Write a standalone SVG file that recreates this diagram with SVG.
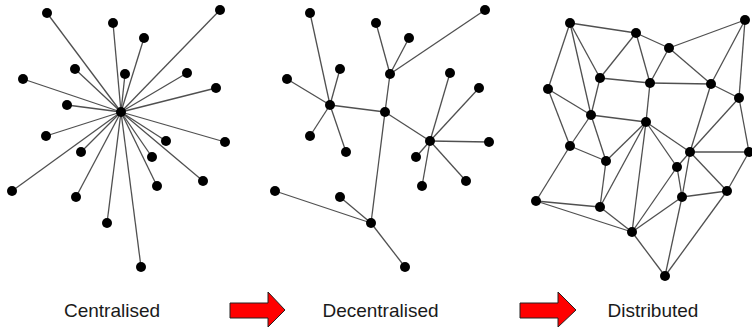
<svg xmlns="http://www.w3.org/2000/svg" width="752" height="327" viewBox="0 0 752 327">
<style>
.e line{stroke:#505050;stroke-width:1.3;fill:none}
.n circle{fill:#000}
.lbl{font-family:"Liberation Sans",Arial,sans-serif;font-size:19px;fill:#1a1a1a;text-anchor:middle}
.arr{fill:#ff0000;stroke:#222;stroke-width:1}
</style>
<rect width="752" height="327" fill="#fff"/>
<g id="connectors" class="e">
<!-- centralised -->
<line x1="121" y1="112" x2="47" y2="13"/><line x1="121" y1="112" x2="113" y2="23"/><line x1="121" y1="112" x2="144" y2="38"/><line x1="121" y1="112" x2="220" y2="10"/><line x1="121" y1="112" x2="75" y2="69"/><line x1="121" y1="112" x2="125" y2="74"/><line x1="121" y1="112" x2="187" y2="73"/><line x1="121" y1="112" x2="23" y2="79"/><line x1="121" y1="112" x2="216" y2="88"/><line x1="121" y1="112" x2="67" y2="105"/><line x1="121" y1="112" x2="46" y2="136"/><line x1="121" y1="112" x2="166" y2="141"/><line x1="121" y1="112" x2="225" y2="142"/><line x1="121" y1="112" x2="81" y2="152"/><line x1="121" y1="112" x2="152" y2="157"/><line x1="121" y1="112" x2="12" y2="191"/><line x1="121" y1="112" x2="76" y2="197"/><line x1="121" y1="112" x2="157" y2="186"/><line x1="121" y1="112" x2="203" y2="181"/><line x1="121" y1="112" x2="107" y2="223"/><line x1="121" y1="112" x2="141" y2="267"/>
<!-- decentralised -->
<line x1="310" y1="13" x2="330" y2="105"/><line x1="340" y1="69" x2="330" y2="105"/><line x1="287" y1="79" x2="330" y2="105"/><line x1="310" y1="136" x2="330" y2="105"/><line x1="346" y1="152" x2="330" y2="105"/><line x1="330" y1="105" x2="385" y2="112"/><line x1="385" y1="112" x2="390" y2="74"/><line x1="390" y1="74" x2="376" y2="23"/><line x1="390" y1="74" x2="409" y2="38"/><line x1="390" y1="74" x2="485" y2="10"/><line x1="385" y1="112" x2="430" y2="141"/><line x1="430" y1="141" x2="450" y2="73"/><line x1="430" y1="141" x2="479" y2="88"/><line x1="430" y1="141" x2="489" y2="142"/><line x1="430" y1="141" x2="416" y2="157"/><line x1="430" y1="141" x2="422" y2="186"/><line x1="430" y1="141" x2="466" y2="181"/><line x1="385" y1="112" x2="371" y2="223"/><line x1="371" y1="223" x2="275" y2="191"/><line x1="371" y1="223" x2="340" y2="197"/><line x1="371" y1="223" x2="405" y2="267"/>
<!-- distributed -->
<line x1="570" y1="23" x2="636" y2="33"/><line x1="570" y1="23" x2="548" y2="89"/><line x1="570" y1="23" x2="600" y2="78"/><line x1="570" y1="23" x2="591" y2="115"/><line x1="636" y1="33" x2="600" y2="78"/><line x1="636" y1="33" x2="669" y2="48"/><line x1="636" y1="33" x2="650" y2="83"/><line x1="669" y1="48" x2="745" y2="20"/><line x1="669" y1="48" x2="650" y2="83"/><line x1="669" y1="48" x2="711" y2="84"/><line x1="745" y1="20" x2="711" y2="84"/><line x1="745" y1="20" x2="739" y2="98"/><line x1="600" y1="78" x2="650" y2="83"/><line x1="600" y1="78" x2="591" y2="115"/><line x1="650" y1="83" x2="711" y2="84"/><line x1="650" y1="83" x2="646" y2="122"/><line x1="711" y1="84" x2="739" y2="98"/><line x1="548" y1="89" x2="591" y2="115"/><line x1="548" y1="89" x2="570" y2="146"/><line x1="591" y1="115" x2="646" y2="122"/><line x1="591" y1="115" x2="570" y2="146"/><line x1="591" y1="115" x2="606" y2="161"/><line x1="646" y1="122" x2="606" y2="161"/><line x1="646" y1="122" x2="600" y2="207"/><line x1="646" y1="122" x2="632" y2="232"/><line x1="646" y1="122" x2="677" y2="167"/><line x1="646" y1="122" x2="690" y2="152"/><line x1="711" y1="84" x2="690" y2="152"/><line x1="739" y1="98" x2="690" y2="152"/><line x1="739" y1="98" x2="749" y2="152"/><line x1="690" y1="152" x2="749" y2="152"/><line x1="690" y1="152" x2="677" y2="167"/><line x1="690" y1="152" x2="682" y2="197"/><line x1="690" y1="152" x2="727" y2="191"/><line x1="749" y1="152" x2="727" y2="191"/><line x1="677" y1="167" x2="682" y2="197"/><line x1="677" y1="167" x2="632" y2="232"/><line x1="682" y1="197" x2="727" y2="191"/><line x1="682" y1="197" x2="632" y2="232"/><line x1="682" y1="197" x2="665" y2="276"/><line x1="727" y1="191" x2="665" y2="276"/><line x1="632" y1="232" x2="665" y2="276"/><line x1="606" y1="161" x2="600" y2="207"/><line x1="570" y1="146" x2="606" y2="161"/><line x1="570" y1="146" x2="536" y2="201"/><line x1="536" y1="201" x2="600" y2="207"/><line x1="536" y1="201" x2="632" y2="232"/><line x1="600" y1="207" x2="632" y2="232"/>
</g>
<g id="centralised" class="n">
<circle cx="121" cy="112" r="5"/>
<circle cx="47" cy="13" r="5"/><circle cx="113" cy="23" r="5"/><circle cx="144" cy="38" r="5"/><circle cx="220" cy="10" r="5"/><circle cx="75" cy="69" r="5"/><circle cx="125" cy="74" r="5"/><circle cx="187" cy="73" r="5"/><circle cx="23" cy="79" r="5"/><circle cx="216" cy="88" r="5"/><circle cx="67" cy="105" r="5"/><circle cx="46" cy="136" r="5"/><circle cx="166" cy="141" r="5"/><circle cx="225" cy="142" r="5"/><circle cx="81" cy="152" r="5"/><circle cx="152" cy="157" r="5"/><circle cx="12" cy="191" r="5"/><circle cx="76" cy="197" r="5"/><circle cx="157" cy="186" r="5"/><circle cx="203" cy="181" r="5"/><circle cx="107" cy="223" r="5"/><circle cx="141" cy="267" r="5"/>
</g>
<g id="decentralised" class="n">
<circle cx="330" cy="105" r="5"/><circle cx="385" cy="112" r="5"/><circle cx="390" cy="74" r="5"/><circle cx="430" cy="141" r="5"/><circle cx="371" cy="223" r="5"/>
<circle cx="310" cy="13" r="5"/><circle cx="376" cy="23" r="5"/><circle cx="409" cy="38" r="5"/><circle cx="485" cy="10" r="5"/><circle cx="340" cy="69" r="5"/><circle cx="450" cy="73" r="5"/><circle cx="287" cy="79" r="5"/><circle cx="479" cy="88" r="5"/><circle cx="310" cy="136" r="5"/><circle cx="346" cy="152" r="5"/><circle cx="489" cy="142" r="5"/><circle cx="416" cy="157" r="5"/><circle cx="275" cy="191" r="5"/><circle cx="340" cy="197" r="5"/><circle cx="422" cy="186" r="5"/><circle cx="466" cy="181" r="5"/><circle cx="405" cy="267" r="5"/>
</g>
<g id="distributed" class="n">
<circle cx="570" cy="23" r="5"/><circle cx="636" cy="33" r="5"/><circle cx="669" cy="48" r="5"/><circle cx="745" cy="20" r="5"/><circle cx="600" cy="78" r="5"/><circle cx="650" cy="83" r="5"/><circle cx="711" cy="84" r="5"/><circle cx="548" cy="89" r="5"/><circle cx="739" cy="98" r="5"/><circle cx="591" cy="115" r="5"/><circle cx="646" cy="122" r="5"/><circle cx="570" cy="146" r="5"/><circle cx="606" cy="161" r="5"/><circle cx="690" cy="152" r="5"/><circle cx="749" cy="152" r="5"/><circle cx="677" cy="167" r="5"/><circle cx="536" cy="201" r="5"/><circle cx="600" cy="207" r="5"/><circle cx="682" cy="197" r="5"/><circle cx="727" cy="191" r="5"/><circle cx="632" cy="232" r="5"/><circle cx="665" cy="276" r="5"/>
</g>
<g id="labels">
<text class="lbl" x="112" y="317">Centralised</text>
<text class="lbl" x="380.5" y="317">Decentralised</text>
<text class="lbl" x="653" y="317">Distributed</text>
</g>
<g id="arrows">
<polygon class="arr" points="230,303 268,303 268,292 285,310 268,327 268,318 230,318"/>
<polygon class="arr" points="520,303 558,303 558,292 576,310 558,327 558,318 520,318"/>
</g>
</svg>
